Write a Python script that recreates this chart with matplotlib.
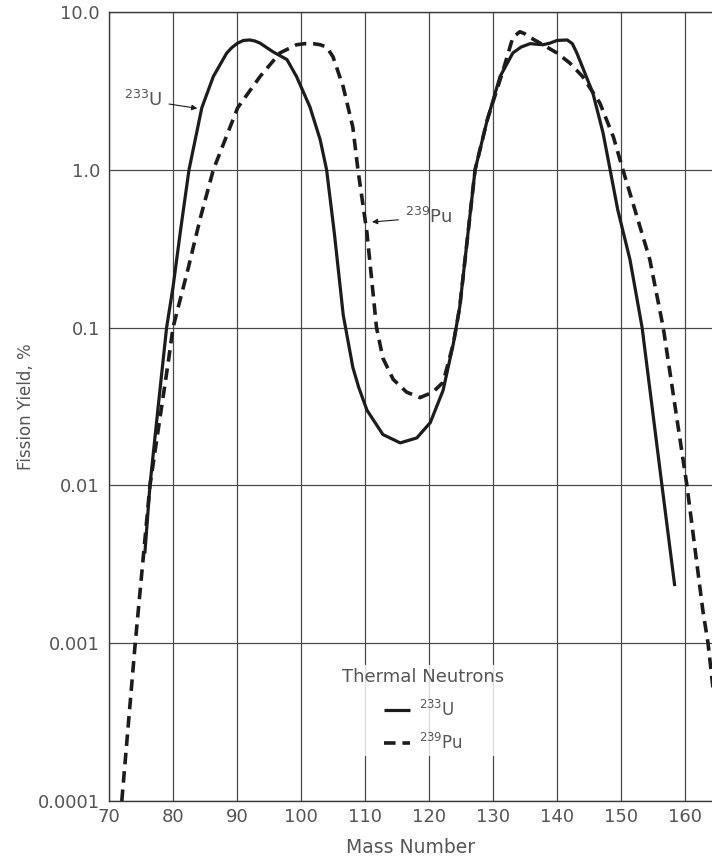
import numpy as np
import matplotlib.pyplot as plt

# mass number / yield (%)
u233_mass = [75.6, 76.4, 77.7, 79.0, 80.0, 81.2, 82.5, 84.5, 86.3, 88.4, 89.2, 90.1,
             91.0, 92.0, 92.8, 93.6, 95.6, 97.8, 99.3, 101.4, 103.0, 104.0, 105.2,
             106.6, 108.1, 109.0, 110.3, 112.8, 115.5, 118.1, 120.2, 122.2, 123.8,
             124.8, 127.2, 129.1, 131.1, 133.1, 134.4, 135.8, 136.8, 137.8, 138.9,
             140.0, 141.6, 142.4, 143.1, 145.6, 147.2, 148.3, 149.5, 151.4, 153.3,
             156.4, 158.4]
u233_yield = [0.0037, 0.01, 0.032, 0.1, 0.18, 0.42, 1.0, 2.47, 3.9, 5.5, 5.95, 6.35,
              6.6, 6.65, 6.55, 6.35, 5.6, 5.0, 3.9, 2.5, 1.55, 1.0, 0.40,
              0.12, 0.056, 0.042, 0.030, 0.021, 0.0186, 0.020, 0.025, 0.040, 0.079,
              0.135, 1.0, 2.07, 3.9, 5.5, 6.0, 6.3, 6.25, 6.2, 6.35,
              6.6, 6.65, 6.3, 5.5, 3.07, 1.71, 1.0, 0.556, 0.27, 0.1,
              0.01, 0.0023]

pu239_mass = [72.0, 74.1, 76.4, 79.3, 80.0, 82.4, 84.3, 86.3, 90.1, 93.6, 96.7, 99.3,
              100.6, 101.9, 103.0, 104.0, 105.0, 106.6, 108.1, 108.9, 110.3, 111.8,
              112.8, 114.4, 116.5, 118.6, 120.6, 122.2, 123.8, 124.8, 127.2, 129.1,
              131.6, 133.1, 134.2, 134.9, 135.8, 137.8, 140.0, 142.0, 144.0, 146.7,
              148.8, 150.3, 152.4, 154.5, 156.6, 160.3, 162.8, 163.6, 165.5]
pu239_yield = [0.0001, 0.001, 0.01, 0.062, 0.1, 0.24, 0.5, 1.0, 2.47, 3.9, 5.5, 6.2,
               6.3, 6.3, 6.2, 6.0, 5.2, 3.35, 1.86, 1.0, 0.40, 0.1,
               0.064, 0.047, 0.039, 0.036, 0.039, 0.045, 0.079, 0.135, 1.0, 2.07,
               4.3, 6.9, 7.5, 7.3, 6.9, 6.2, 5.5, 4.75, 3.9, 2.65,
               1.62, 1.0, 0.52, 0.27, 0.1, 0.01, 0.0016, 0.001, 0.0002]

xticks = [70, 80, 90, 100, 110, 120, 130, 140, 150, 160]
yticks = [0.0001, 0.001, 0.01, 0.1, 1.0, 10.0]
ytick_labels = ["0.0001", "0.001", "0.01", "0.1", "1.0", "10.0"]

txt = "#555555"
ink = "#1c1c1c"

fig = plt.figure(figsize=(7.12, 8.61), dpi=100)
ax = fig.add_axes([109/712, 60/861, 603/712, 789/861])

ax.set_yscale("log")
ax.set_xlim(70, 70 + 603/6.4)
ax.set_ylim(0.0001, 10.0)

ax.plot(u233_mass, u233_yield, color=ink, lw=2.3, solid_capstyle="butt",
        solid_joinstyle="round", label="$^{233}$U", zorder=3)
ax.plot(pu239_mass, pu239_yield, color=ink, lw=2.6, dashes=(3.2, 1.9),
        label="$^{239}$Pu", zorder=3)

ax.set_xticks(xticks)
ax.set_yticks(yticks)
ax.set_yticklabels(ytick_labels)
ax.minorticks_off()
ax.tick_params(length=0, labelsize=13, colors=txt)
ax.tick_params(axis="y", pad=6.5)
ax.tick_params(axis="x", pad=5)
ax.grid(True, color="#4a4a4a", lw=0.9)
ax.set_axisbelow(True)

for s in ["left", "top", "bottom"]:
    ax.spines[s].set_color("#3a3a3a")
    ax.spines[s].set_linewidth(1.0)
ax.spines["right"].set_visible(False)

ax.set_xlabel("Mass Number", fontsize=13.5, color=txt, labelpad=9)
ax.set_ylabel("Fission Yield, %", fontsize=12, color=txt, labelpad=2)

ax.annotate("$^{233}$U", xy=(83.8, 2.45), xytext=(78.3, 2.77),
            ha="right", va="center", fontsize=13, color=txt,
            arrowprops=dict(arrowstyle="-|>", color=ink, lw=0.8,
                            mutation_scale=8, shrinkA=3, shrinkB=0))
ax.annotate("$^{239}$Pu", xy=(111.1, 0.467), xytext=(116.3, 0.50),
            ha="left", va="center", fontsize=13, color=txt,
            arrowprops=dict(arrowstyle="-|>", color=ink, lw=0.8,
                            mutation_scale=8, shrinkA=3, shrinkB=0))

leg = ax.legend(title="Thermal Neutrons", loc="upper center",
                bbox_to_anchor=(0.521, 0.183), fontsize=12, title_fontsize=13,
                frameon=True, handlelength=1.6, handletextpad=0.5,
                labelspacing=0.8, borderpad=0.2)
leg.get_frame().set_facecolor("white")
leg.get_frame().set_edgecolor("none")
leg.get_title().set_color(txt)
for t in leg.get_texts():
    t.set_color(txt)

fig.savefig("out.png", dpi=100)
